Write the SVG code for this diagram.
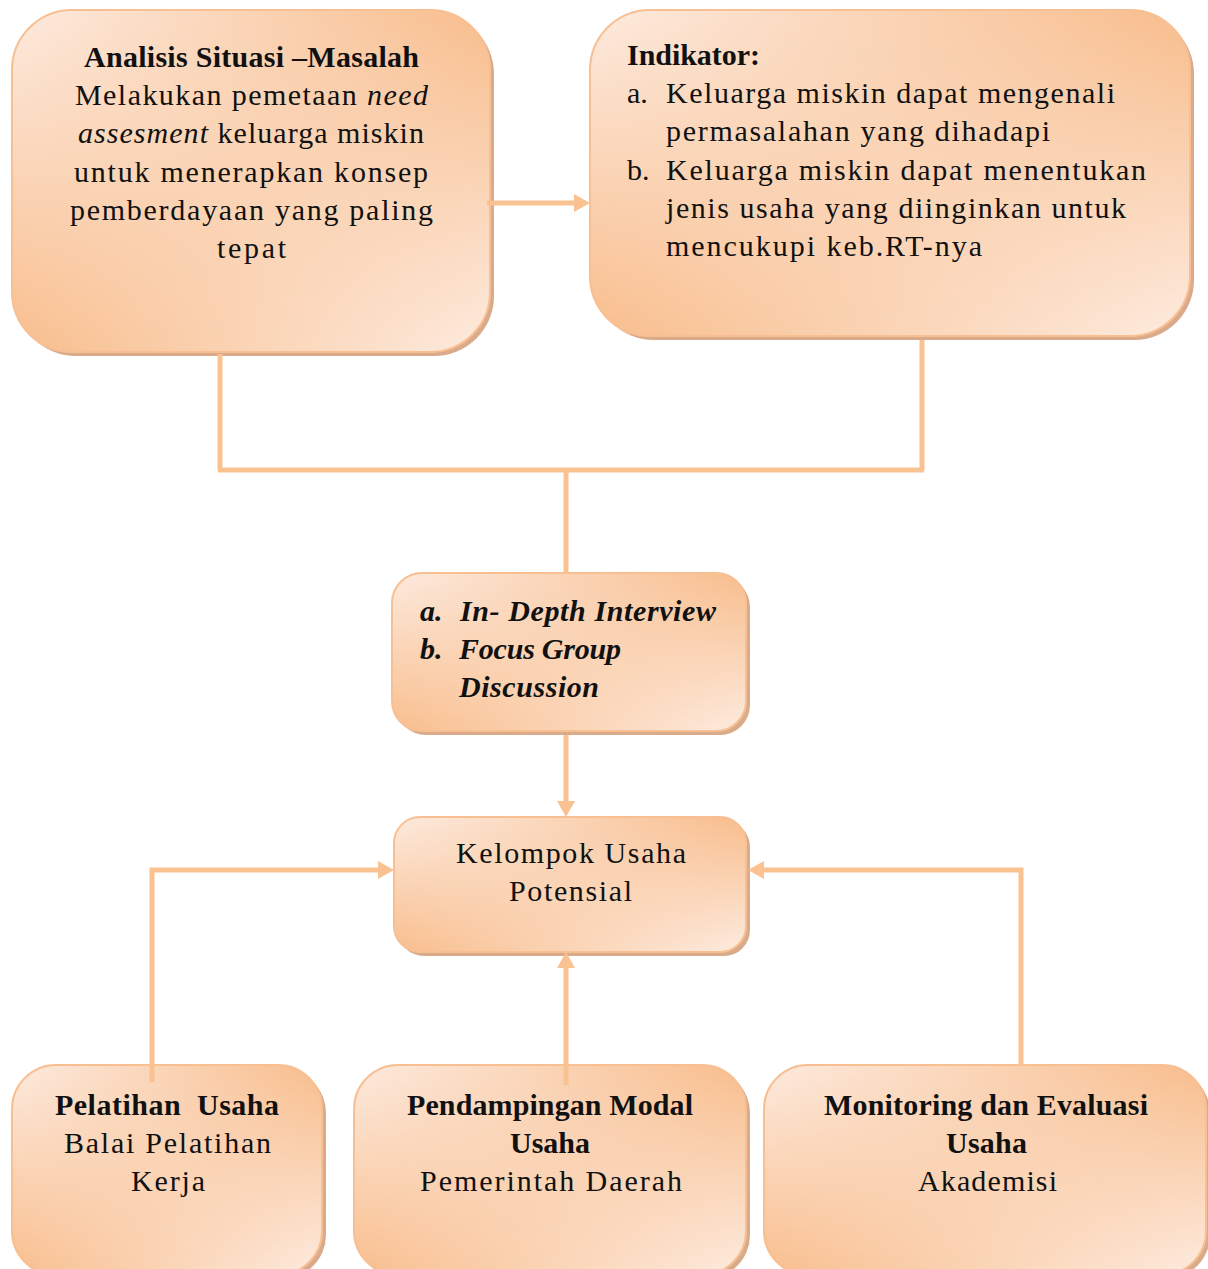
<svg xmlns="http://www.w3.org/2000/svg" width="1208" height="1269" viewBox="0 0 1208 1269">
<defs>
<style>
text{font-family:"Liberation Serif","Times New Roman",serif;font-size:30px;fill:#111;}
.b{font-weight:bold;}
.i{font-style:italic;}
.bi{font-weight:bold;font-style:italic;}
.shadow{fill:#d9ab8b;}
.base{fill:url(#gH1);}
.over{fill:url(#gH2);}
.edge{fill:none;stroke:#f8bf92;stroke-width:2;}
.conn{fill:none;stroke:#fac191;stroke-width:5;}
</style>
<linearGradient id="gH1" x1="0" y1="0" x2="1" y2="0">
<stop offset="0" stop-color="#fdebdf"/>
<stop offset="1" stop-color="#f8bd8c"/>
</linearGradient>
<linearGradient id="gH2" x1="0" y1="0" x2="1" y2="0">
<stop offset="0" stop-color="#f8bd8c"/>
<stop offset="1" stop-color="#fdebdf"/>
</linearGradient>
<linearGradient id="gV" x1="0" y1="0" x2="0" y2="1">
<stop offset="0" stop-color="#000"/>
<stop offset="1" stop-color="#fff"/>
</linearGradient>
<mask id="mV" maskContentUnits="objectBoundingBox">
<rect x="0" y="0" width="1" height="1" fill="url(#gV)"/>
</mask>
<marker id="arr" markerUnits="userSpaceOnUse" markerWidth="16" markerHeight="18" refX="5" refY="9" orient="auto">
<path d="M0,0 L16,9 L0,18 z" fill="#fac191"/>
</marker>
</defs>
<rect width="1208" height="1269" fill="#fff"/>

<g id="node-analisis">
<rect class="shadow" x="16" y="14" width="478" height="342" rx="60"/>
<rect class="base" x="12" y="10" width="478" height="342" rx="60"/>
<rect class="over" x="12" y="10" width="478" height="342" rx="60" mask="url(#mV)"/>
<rect class="edge" x="12" y="10" width="478" height="342" rx="60"/>
<text class="b" x="84" y="67" textLength="335" lengthAdjust="spacing">Analisis Situasi –Masalah</text>
<text x="75" y="105" textLength="353" lengthAdjust="spacing">Melakukan pemetaan <tspan class="i">need</tspan></text>
<text x="78" y="143" textLength="346" lengthAdjust="spacing"><tspan class="i">assesment</tspan> keluarga miskin</text>
<text x="74" y="182" textLength="354" lengthAdjust="spacing">untuk menerapkan konsep</text>
<text x="70" y="220" textLength="363" lengthAdjust="spacing">pemberdayaan yang paling</text>
<text x="217" y="258" textLength="69" lengthAdjust="spacing">tepat</text>
</g>

<g id="node-indikator">
<rect class="shadow" x="594" y="14" width="600" height="326" rx="60"/>
<rect class="base" x="590" y="10" width="600" height="326" rx="60"/>
<rect class="over" x="590" y="10" width="600" height="326" rx="60" mask="url(#mV)"/>
<rect class="edge" x="590" y="10" width="600" height="326" rx="60"/>
<text class="b" x="627" y="65" textLength="133" lengthAdjust="spacing">Indikator:</text>
<text x="627" y="103">a.</text>
<text x="666" y="103" textLength="449" lengthAdjust="spacing">Keluarga miskin dapat mengenali</text>
<text x="666" y="141" textLength="384" lengthAdjust="spacing">permasalahan yang dihadapi</text>
<text x="627" y="180">b.</text>
<text x="666" y="180" textLength="480" lengthAdjust="spacing">Keluarga miskin dapat menentukan</text>
<text x="666" y="218" textLength="460" lengthAdjust="spacing">jenis usaha yang diinginkan untuk</text>
<text x="666" y="256" textLength="316" lengthAdjust="spacing">mencukupi keb.RT-nya</text>
</g>

<g id="node-metode">
<rect class="shadow" x="396" y="577" width="354" height="158" rx="30"/>
<rect class="base" x="392" y="573" width="354" height="158" rx="30"/>
<rect class="over" x="392" y="573" width="354" height="158" rx="30" mask="url(#mV)"/>
<rect class="edge" x="392" y="573" width="354" height="158" rx="30"/>
<text class="bi" x="420" y="621">a.</text>
<text class="bi" x="460" y="621" textLength="256" lengthAdjust="spacing">In- Depth Interview</text>
<text class="bi" x="420" y="659">b.</text>
<text class="bi" x="459" y="659" textLength="162" lengthAdjust="spacing">Focus Group</text>
<text class="bi" x="459" y="697" textLength="140" lengthAdjust="spacing">Discussion</text>
</g>

<g id="node-kelompok">
<rect class="shadow" x="398" y="821" width="352" height="135" rx="26"/>
<rect class="base" x="394" y="817" width="352" height="135" rx="26"/>
<rect class="over" x="394" y="817" width="352" height="135" rx="26" mask="url(#mV)"/>
<rect class="edge" x="394" y="817" width="352" height="135" rx="26"/>
<text x="456" y="863" textLength="230" lengthAdjust="spacing">Kelompok Usaha</text>
<text x="509" y="901" textLength="123" lengthAdjust="spacing">Potensial</text>
</g>

<g id="node-pelatihan">
<rect class="shadow" x="16" y="1069" width="310" height="210" rx="44"/>
<rect class="base" x="12" y="1065" width="310" height="210" rx="44"/>
<rect class="over" x="12" y="1065" width="310" height="210" rx="44" mask="url(#mV)"/>
<rect class="edge" x="12" y="1065" width="310" height="210" rx="44"/>
<text class="b" x="55" y="1115" textLength="224" lengthAdjust="spacing" xml:space="preserve">Pelatihan  Usaha</text>
<text x="64" y="1153" textLength="207" lengthAdjust="spacing">Balai Pelatihan</text>
<text x="131" y="1191" textLength="74" lengthAdjust="spacing">Kerja</text>
</g>

<g id="node-pendampingan">
<rect class="shadow" x="358" y="1069" width="392" height="210" rx="44"/>
<rect class="base" x="354" y="1065" width="392" height="210" rx="44"/>
<rect class="over" x="354" y="1065" width="392" height="210" rx="44" mask="url(#mV)"/>
<rect class="edge" x="354" y="1065" width="392" height="210" rx="44"/>
<text class="b" x="407" y="1115" textLength="286" lengthAdjust="spacing">Pendampingan Modal</text>
<text class="b" x="510" y="1153" textLength="80" lengthAdjust="spacing">Usaha</text>
<text x="420" y="1191" textLength="262" lengthAdjust="spacing">Pemerintah Daerah</text>
</g>

<g id="node-monitoring">
<rect class="shadow" x="768" y="1069" width="442" height="210" rx="44"/>
<rect class="base" x="764" y="1065" width="442" height="210" rx="44"/>
<rect class="over" x="764" y="1065" width="442" height="210" rx="44" mask="url(#mV)"/>
<rect class="edge" x="764" y="1065" width="442" height="210" rx="44"/>
<text class="b" x="824" y="1115" textLength="324" lengthAdjust="spacing">Monitoring dan Evaluasi</text>
<text class="b" x="946" y="1153" textLength="81" lengthAdjust="spacing">Usaha</text>
<text x="918" y="1191" textLength="139" lengthAdjust="spacing">Akademisi</text>
</g>

<g id="connectors">
<path class="conn" d="M487,203 H579" marker-end="url(#arr)"/>
<path class="conn" d="M220,354 V470"/>
<path class="conn" d="M922,340 V470"/>
<path class="conn" d="M218,470 H924"/>
<path class="conn" d="M566,470 V573"/>
<path class="conn" d="M566,735 V806" marker-end="url(#arr)"/>
<path class="conn" d="M152,1082 V870 H383" marker-end="url(#arr)"/>
<path class="conn" d="M1021,1065 V870 H759" marker-end="url(#arr)"/>
<path class="conn" d="M566,1085 V963" marker-end="url(#arr)"/>
</g>
</svg>
